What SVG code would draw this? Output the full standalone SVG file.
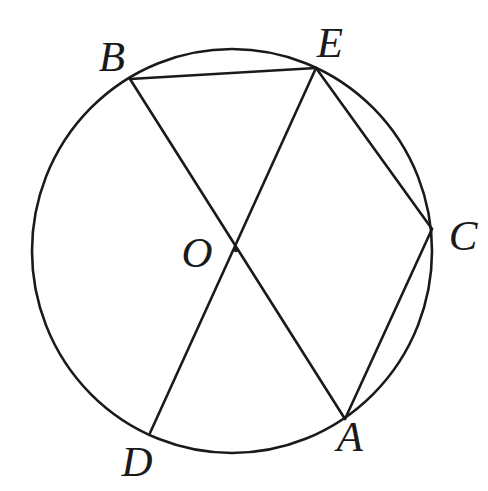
<svg xmlns="http://www.w3.org/2000/svg" width="488" height="491" viewBox="0 0 488 491">
<style>
.ln{stroke:#1a1a1a;stroke-width:2.6;fill:none;stroke-linecap:round}
.lb{font-family:"Liberation Serif","DejaVu Serif",serif;font-style:italic;font-size:43px;fill:#1a1a1a;text-anchor:middle}
</style>
<rect width="488" height="491" fill="#fff"/>
<g id="circle"><ellipse class="ln" cx="232" cy="251" rx="200" ry="202"/></g>
<g id="connectors">
<line class="ln" x1="130" y1="79" x2="316" y2="68"/>
<line class="ln" x1="316" y1="68" x2="432" y2="229"/>
<line class="ln" x1="432" y1="229" x2="345" y2="419"/>
<line class="ln" x1="130" y1="79" x2="345" y2="419"/>
<line class="ln" x1="316" y1="68" x2="150" y2="433"/>
</g>
<g id="O"><circle cx="236" cy="250" r="2.2" fill="#1a1a1a"/><text class="lb" x="197" y="267">O</text></g>
<g id="B"><text class="lb" x="112" y="71">B</text></g>
<g id="E"><text class="lb" x="330" y="57">E</text></g>
<g id="C"><text class="lb" x="463" y="250">C</text></g>
<g id="D"><text class="lb" x="137" y="476">D</text></g>
<g id="A"><text class="lb" x="350" y="451">A</text></g>
</svg>
